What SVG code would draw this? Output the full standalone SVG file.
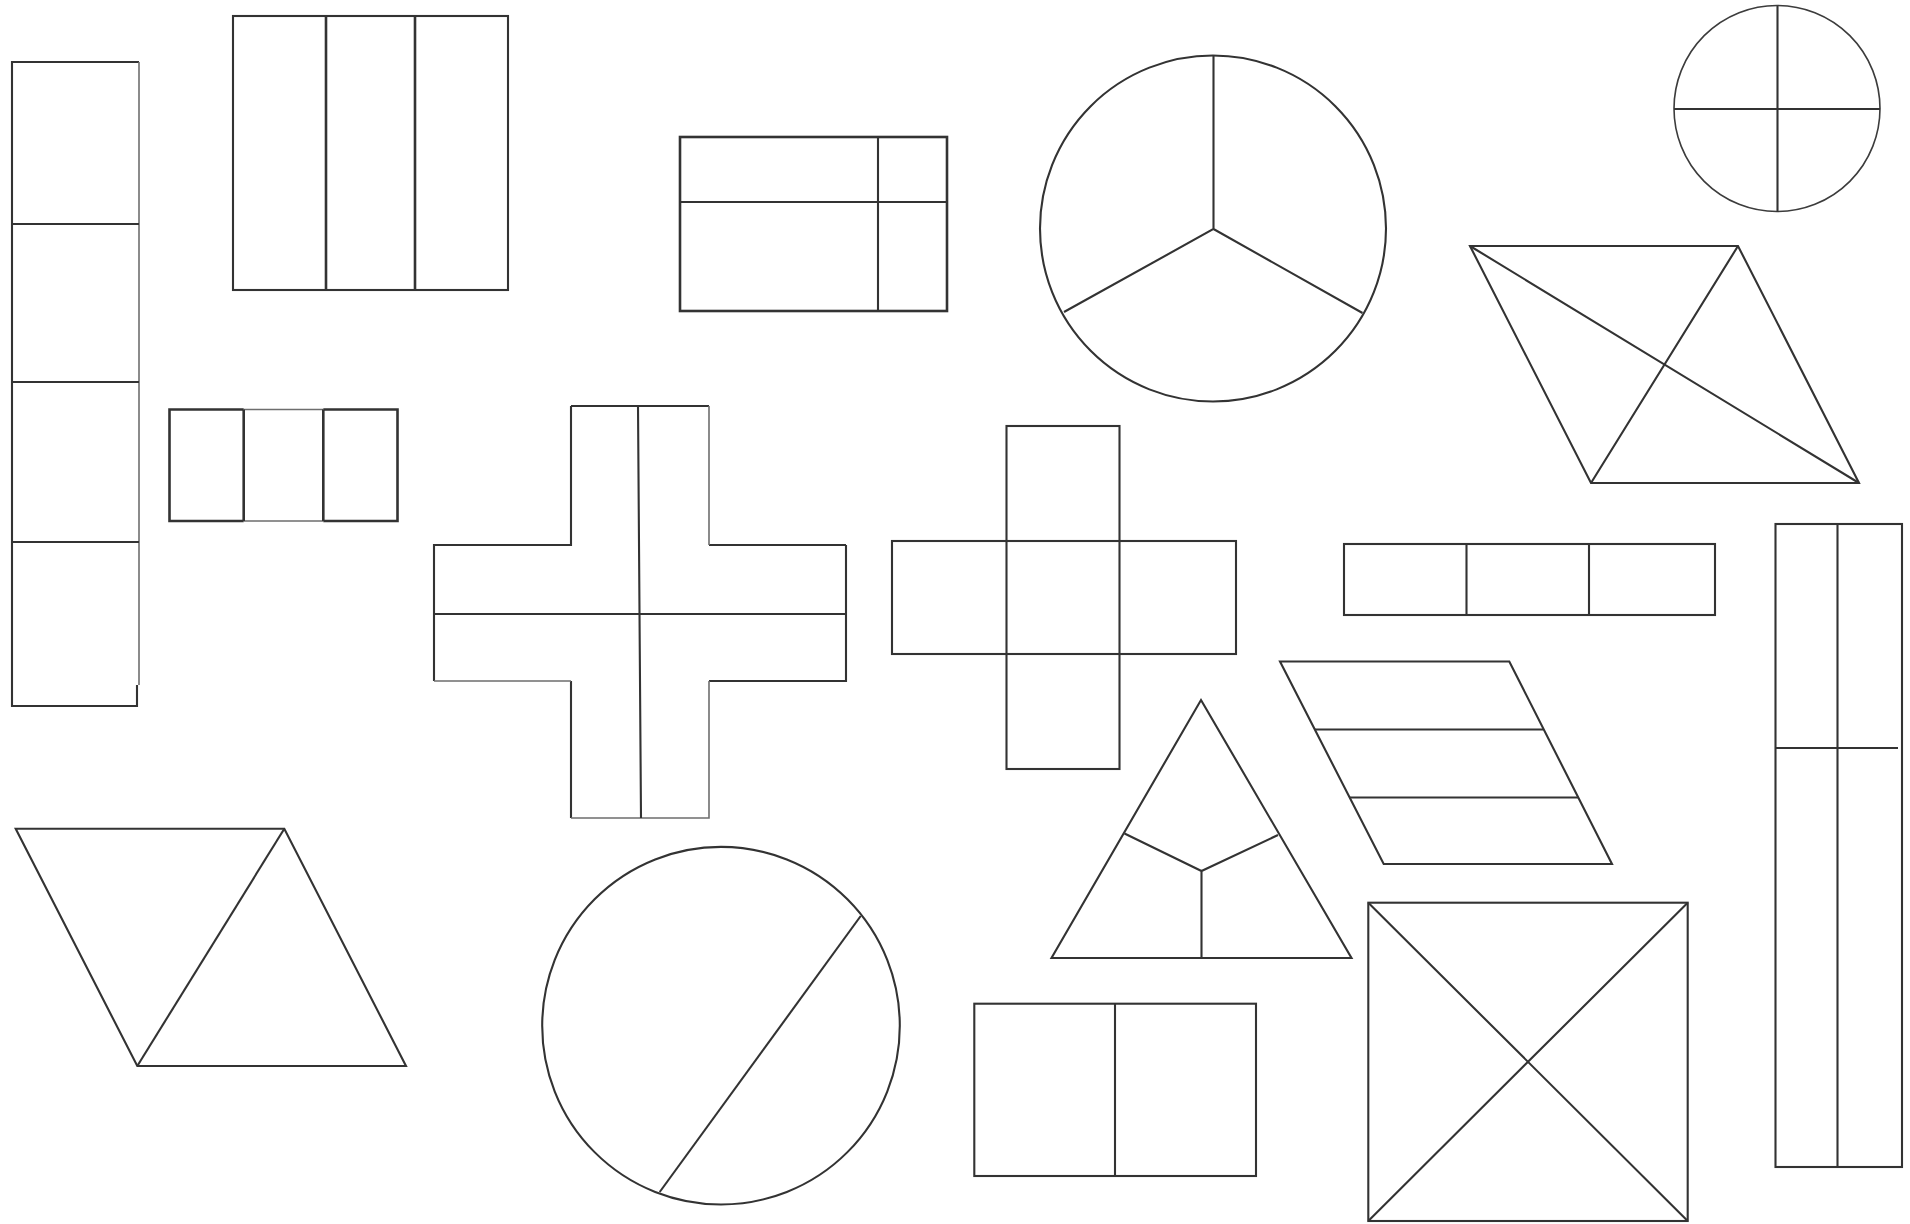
<svg xmlns="http://www.w3.org/2000/svg" width="1910" height="1224" viewBox="0 0 1910 1224">
<style>
  .s{fill:none;stroke:#333333;stroke-width:2.1;stroke-linejoin:miter}
  .t{fill:none;stroke:#333333;stroke-width:2.6}
  .f{fill:none;stroke:#3c3c3c;stroke-width:1.6}
  .lt{fill:none;stroke:#6e6e6e;stroke-width:1.6}
</style>
<rect width="1910" height="1224" fill="#ffffff"/>

<g id="tall-rect-4">
  <path class="s" d="M139,62 H12 V706 H137 V685"/>
  <path class="lt" d="M139,62 V685"/>
  <path class="s" d="M12,224 H139 M12,382 H139 M12,542 H139"/>
</g>

<g id="rect-3-vertical">
  <rect class="s" x="233" y="16" width="275" height="274"/>
  <path class="t" d="M326,16 V290 M415,16 V290"/>
</g>

<g id="rect-4-unequal">
  <rect class="t" x="680" y="137" width="267" height="174"/>
  <path class="s" d="M878,137 V311 M680,202 H947"/>
</g>

<g id="circle-thirds">
  <circle class="s" cx="1213" cy="228.5" r="173"/>
  <path class="s" d="M1213.5,56 V229 L1064,312 M1213.5,229 L1362.5,313"/>
</g>

<g id="circle-quarters">
  <circle class="f" cx="1777" cy="108.5" r="103"/>
  <path class="s" d="M1674,109 H1880 M1777.5,6 V212"/>
</g>

<g id="parallelogram-diagonals">
  <polygon class="s" points="1470,246 1738,246 1859,483 1591,483"/>
  <path class="s" d="M1470,246 L1859,483 M1738,246 L1591,483"/>
</g>

<g id="small-rect-3">
  <path class="t" d="M243.7,409.5 H169.5 V521 H243.7 M323.3,409.5 H397.5 V521 H323.3"/>
  <path class="lt" d="M243.7,409.5 H323.3 M243.7,521 H323.3"/>
  <path class="t" d="M243.7,409.5 V521 M323.3,409.5 V521"/>
</g>

<g id="cross-big">
  <path class="s" d="M571,406 H709 M846,545 V681 H709 M571,818 V681 M434,681 V545 H571 V406 M709,545 H846"/>
  <path class="lt" d="M709,406 V545 M709,681 V818 H571 M571,681 H434"/>
  <path class="s" d="M638,406 L641,818 M434,614 H846"/>
</g>

<g id="cube-net">
  <rect class="s" x="1006.5" y="426" width="113" height="343"/>
  <rect class="s" x="892" y="541" width="344" height="113"/>
</g>

<g id="strip-3">
  <rect class="s" x="1344" y="544" width="371" height="71"/>
  <path class="s" d="M1466.5,544 V615 M1589,544 V615"/>
</g>

<g id="tall-rect-right">
  <rect class="s" x="1775.5" y="524" width="126.5" height="643"/>
  <path class="s" d="M1837.5,524 V1167 M1775.5,748 H1898"/>
</g>

<g id="parallelogram-stripes">
  <polygon class="s" points="1280,661.5 1509.3,661.5 1612,864 1383.7,864"/>
  <path class="s" d="M1315,729.5 H1543.5 M1349.5,797.5 H1578"/>
</g>

<g id="triangle-thirds">
  <polygon class="s" points="1201,700 1351.5,958 1051.5,958"/>
  <path class="s" d="M1124.5,833.5 L1201.5,871 L1278,835 M1201.5,871 V958"/>
</g>

<g id="parallelogram-halves">
  <polygon class="s" points="15.7,828.7 284.3,828.7 406,1066 137.3,1066"/>
  <path class="s" d="M284.3,828.7 L137.3,1066"/>
</g>

<g id="circle-chord">
  <circle class="s" cx="721" cy="1025.7" r="178.8"/>
  <path class="s" d="M860.7,916 L659.7,1192"/>
</g>

<g id="rect-halves">
  <rect class="s" x="974.3" y="1003.7" width="281.7" height="172.3"/>
  <path class="s" d="M1115,1003.7 V1176"/>
</g>

<g id="square-x">
  <rect class="s" x="1368.3" y="902.7" width="319.4" height="318.3"/>
  <path class="s" d="M1368.3,902.7 L1687.7,1221 M1687.7,902.7 L1368.3,1221"/>
</g>
</svg>
